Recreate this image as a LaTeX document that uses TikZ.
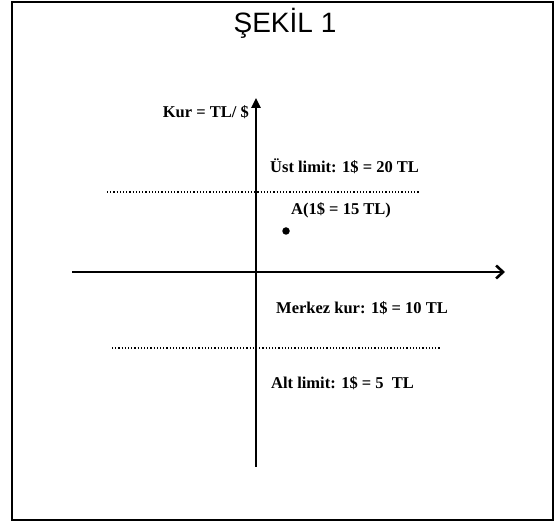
\documentclass[tikz,border=0pt]{standalone}
\usepackage{fontspec}
\setmainfont{Liberation Serif}
\newfontfamily\titlefont{Liberation Sans}
\usetikzlibrary{arrows.meta}
\begin{document}
\begin{tikzpicture}[x=1pt,y=-1pt,
  axis/.style={line width=2.4pt},
  limitline/.style={line width=1.2pt,dotted},
  lbl/.style={font=\fontsize{16.5}{18}\selectfont\bfseries,inner sep=0pt},
  dotpt/.style={circle,fill=black,inner sep=0pt,minimum size=7.5pt}]
\useasboundingbox (0,0) rectangle (555,526);
\fill[white] (0,0) rectangle (555,526);
% outer frame
\draw[line width=2.4pt] (12,2) rectangle (553,520);
% title
\node[font=\titlefont\fontsize{28}{32}\selectfont] (title) at (285,23) {ŞEKİL 1};
% axes
\coordinate (ybot) at (256,467);
\coordinate (ytop) at (256,98);
\coordinate (xl) at (72,272);
\coordinate (xr) at (505,272);
\draw[axis,-{Triangle[length=10pt,width=9pt]}] (ybot) -- (ytop);
\draw[axis,-{Straight Barb[length=7pt,width=13pt,line width=2.6pt]}] (xl) -- (xr);
% band limits
\coordinate (ul) at (107,192);
\coordinate (ur) at (420,192);
\coordinate (ll) at (112,348);
\coordinate (lr) at (440,348);
\draw[limitline] (ul) -- (ur);
\draw[limitline] (ll) -- (lr);
% point A
\node[dotpt] (A) at (286,231) {};
% labels
\node[lbl,anchor=east] (kur) at (249,112) {Kur = TL/ \$};
\node[lbl,anchor=west] (ust) at (270,166) {Üst limit: 1\$ = 20 TL};
\node[lbl,anchor=west] (alab) at (291,210) {A(1\$ = 15 TL)};
\node[lbl,anchor=west] (mer) at (276,308) {Merkez kur: 1\$ = 10 TL};
\node[lbl,anchor=west] (alt) at (271,383) {Alt limit: 1\$ = 5 \ TL};
\end{tikzpicture}
\end{document}
